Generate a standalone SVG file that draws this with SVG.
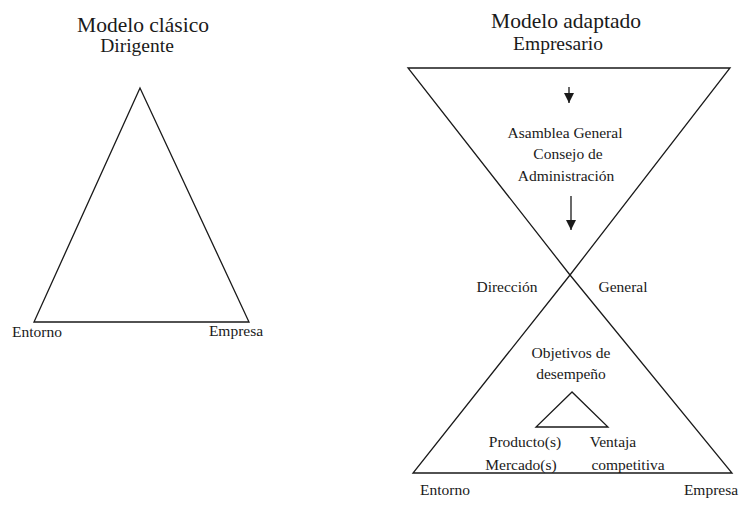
<svg xmlns="http://www.w3.org/2000/svg" width="746" height="511" viewBox="0 0 746 511" font-family="'Liberation Serif', 'Times New Roman', 'DejaVu Serif', serif">
<style>
text{font-family:'Liberation Serif','Times New Roman','DejaVu Serif',serif;fill:#1a1a1a;text-anchor:middle}
.t{font-size:21.5px}
.s{font-size:19.5px}
.l{font-size:15.5px}
.ln{fill:none;stroke:#1a1a1a;stroke-width:1.3;stroke-linejoin:miter}
</style>
<defs>
<marker id="ah" viewBox="0 0 10 10" refX="10" refY="5" markerWidth="10" markerHeight="10" markerUnits="userSpaceOnUse" orient="auto">
<path d="M0,0 L10,5 L0,10 z" fill="#1a1a1a"/>
</marker>
</defs>
<rect width="746" height="511" fill="#fff"/>
<g id="clasico">
<text class="t" x="143" y="32">Modelo clásico</text>
<text class="s" x="137" y="52">Dirigente</text>
<polygon class="ln" points="140,88 34,322 249,322"/>
<text class="l" x="37" y="337">Entorno</text>
<text class="l" x="236" y="336">Empresa</text>
</g>
<g id="adaptado">
<text class="t" x="566" y="28">Modelo adaptado</text>
<text class="s" x="558" y="50">Empresario</text>
</g>
<g id="triangulo-superior">
<polyline class="ln" points="570,275 408,68 730,68 570,275"/>
<text class="l" x="565" y="138">Asamblea General</text>
<text class="l" x="568" y="159">Consejo de</text>
<text class="l" x="566" y="181">Administración</text>
</g>
<g id="direccion-general">
<text class="l" x="507" y="292">Dirección</text>
<text class="l" x="623" y="292">General</text>
</g>
<g id="triangulo-inferior">
<polyline class="ln" points="570,275 413,473 732,473 570,275"/>
<text class="l" x="571" y="358">Objetivos de</text>
<text class="l" x="571" y="379">desempeño</text>
</g>
<g id="triangulo-pequeno">
<polygon class="ln" points="572,392 536,427 608,427"/>
<text class="l" x="525" y="447">Producto(s)</text>
<text class="l" x="521" y="470">Mercado(s)</text>
<text class="l" x="613" y="447">Ventaja</text>
<text class="l" x="628" y="470">competitiva</text>
</g>
<g id="extremos">
<text class="l" x="445" y="495">Entorno</text>
<text class="l" x="711" y="495">Empresa</text>
</g>
<g id="connectors">
<line class="ln" x1="569" y1="87" x2="569" y2="103" marker-end="url(#ah)"/>
<line class="ln" x1="571" y1="196" x2="571" y2="230" marker-end="url(#ah)"/>
</g>
</svg>
